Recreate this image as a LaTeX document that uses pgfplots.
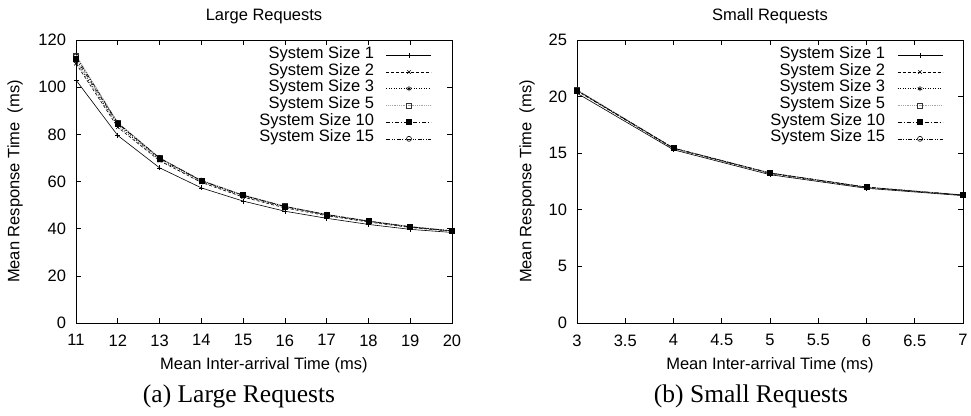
\documentclass[border=0pt]{standalone}
\usepackage{pgfplots}
\pgfplotsset{compat=1.18}
\usepackage{fontspec}
\setmainfont{Liberation Sans}
\newfontfamily\capfont{Liberation Serif}

\newcommand\gpfont{\fontsize{16.5}{19}\selectfont}
\pgfplotsset{
  gp/.style={
    scale only axis,
    width=376pt, height=283pt,
    axis line style={line width=0.8pt},
    every tick/.style={black, line width=0.6pt},
    major tick length=5pt,
    tick align=inside,
    font=\gpfont,
    tick label style={font=\gpfont},
    label style={font=\gpfont},
    /pgf/number format/assume math mode=true,
    xticklabel style={yshift=-8pt},
    yticklabel style={xshift=-6.5pt},
    title style={font=\gpfont, at={(0.5,1)}, anchor=base, yshift=13pt, inner sep=0pt},
    xlabel style={at={(0.5,0)}, anchor=base, yshift=-46.5pt, inner sep=0pt},
    legend style={font=\gpfont, at={(1,1)}, anchor=north east, xshift=-20pt, yshift=-7pt,
      draw=none, fill=none, inner sep=0pt, outer sep=0pt, column sep=12pt,
      nodes={inner sep=0pt, text height=11.5pt, text depth=5.2pt}},
    legend cell align=right,
    legend plot pos=right,
    legend image code/.code={
      \draw[mark repeat=2, mark phase=2] plot coordinates {(0pt,0pt) (22.5pt,0pt) (45pt,0pt)};},
    every axis plot/.append style={line width=0.6pt, mark size=2.5pt},
  },
  s1/.style={black, solid, mark=+, mark options={solid}},
  s2/.style={black, dash pattern=on 3pt off 2pt, mark=x, mark options={solid}},
  s3/.style={black, dash pattern=on 1pt off 1.5pt, mark=asterisk, mark options={solid}},
  s5/.style={gray!70, dash pattern=on 1pt off 0.8pt, line width=1pt, mark=square, mark options={solid, black!80, line width=0.6pt}},
  s10/.style={black, dash pattern=on 4pt off 2pt on 1pt off 2pt, mark=square*, mark options={solid}},
  s15/.style={black, dash pattern=on 4pt off 1.5pt on 1pt off 1.5pt on 1pt off 1.5pt, mark=o, mark options={solid}},
}

\begin{document}
\begin{tikzpicture}
\useasboundingbox (0pt,0pt) rectangle (971pt,415pt);

% (a) large requests
\begin{axis}[gp,
  at={(76pt,92pt)}, anchor=south west,
  xmin=11, xmax=20, ymin=0, ymax=120,
  xtick={11,12,...,20}, ytick={0,20,...,120},
  title={Large Requests},
  xlabel={Mean Inter-arrival Time (ms)},
  ylabel={Mean Response Time\ \ (ms)},
  ylabel style={at={(-0.1503,0.5)}, anchor=base, inner sep=0pt},
]
\addplot[s1] coordinates {(11,103) (12,79.5) (13,65.8) (14,57.3) (15,51.7) (16,47.4) (17,44.4) (18,41.8) (19,39.7) (20,38.4)};
\addlegendentry{System Size 1}
\addplot[s2] coordinates {(11,110) (12,83) (13,68.8) (14,59.6) (15,53.4) (16,48.8) (17,45.5) (18,42.8) (19,40.5) (20,38.9)};
\addlegendentry{System Size 2}
\addplot[s3] coordinates {(11,111) (12,83.8) (13,69.3) (14,60) (15,53.8) (16,49.2) (17,45.8) (18,43.1) (19,40.7) (20,39)};
\addlegendentry{System Size 3}
\addplot[s5] coordinates {(11,113.5) (12,85) (13,70) (14,60.5) (15,54.3) (16,49.5) (17,46) (18,43.3) (19,40.9) (20,39.1)};
\addlegendentry{System Size 5}
\addplot[s10] coordinates {(11,112) (12,84.5) (13,69.8) (14,60.3) (15,54.2) (16,49.4) (17,46) (18,43.2) (19,40.8) (20,39)};
\addlegendentry{System Size 10}
\addplot[s15] coordinates {(11,113) (12,84.8) (13,70) (14,60.4) (15,54.1) (16,49.4) (17,45.9) (18,43.2) (19,40.8) (20,39.1)};
\addlegendentry{System Size 15}
\end{axis}

% (b) small requests
\begin{axis}[gp,
  at={(577pt,92pt)}, anchor=south west, width=386pt,
  xmin=3, xmax=7, ymin=0, ymax=25,
  xtick={3,3.5,...,7}, ytick={0,5,...,25},
  title={Small Requests},
  xlabel={Mean Inter-arrival Time (ms)},
  ylabel={Mean Response Time\ \ (ms)},
  ylabel style={at={(-0.1179,0.5)}, anchor=base, inner sep=0pt},
]
\addplot[s1] coordinates {(3,20.3) (4,15.3) (5,13.1) (6,11.9) (7,11.25)};
\addlegendentry{System Size 1}
\addplot[s2] coordinates {(3,20.5) (4,15.4) (5,13.2) (6,11.95) (7,11.3)};
\addlegendentry{System Size 2}
\addplot[s3] coordinates {(3,20.55) (4,15.45) (5,13.25) (6,12) (7,11.3)};
\addlegendentry{System Size 3}
\addplot[s5] coordinates {(3,20.6) (4,15.45) (5,13.25) (6,12) (7,11.32)};
\addlegendentry{System Size 5}
\addplot[s10] coordinates {(3,20.55) (4,15.45) (5,13.25) (6,12) (7,11.3)};
\addlegendentry{System Size 10}
\addplot[s15] coordinates {(3,20.55) (4,15.45) (5,13.25) (6,12) (7,11.3)};
\addlegendentry{System Size 15}
\end{axis}

\node[anchor=base, inner sep=0pt, font=\capfont\fontsize{25.5}{28}\selectfont] at (239pt,13pt) {(a) Large Requests};
\node[anchor=base, inner sep=0pt, font=\capfont\fontsize{25.5}{28}\selectfont] at (751pt,13pt) {(b) Small Requests};
\end{tikzpicture}
\end{document}
